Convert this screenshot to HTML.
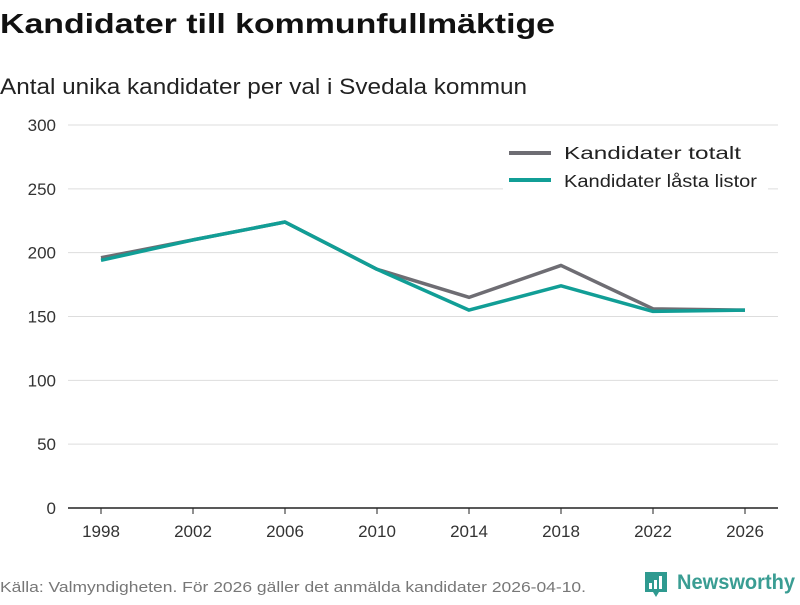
<!DOCTYPE html>
<html><head><meta charset="utf-8"><style>
body{margin:0;background:#fff;width:800px;height:600px;overflow:hidden;font-family:"Liberation Sans",sans-serif}
</style></head><body>
<svg id="c" width="800" height="600" xmlns="http://www.w3.org/2000/svg">
<text x="0" y="33" font-size="28" font-weight="bold" fill="#111" textLength="555" lengthAdjust="spacingAndGlyphs">Kandidater till kommunfullmäktige</text>
<text x="0" y="94" font-size="22" fill="#222" textLength="527" lengthAdjust="spacingAndGlyphs">Antal unika kandidater per val i Svedala kommun</text>
<g id="grid"></g><g id="xt"></g><g id="lines"></g>
<g>
<rect x="503" y="138" width="265" height="62" fill="#fff"/>
<line x1="509" y1="153" x2="551" y2="153" stroke="#6e6d73" stroke-width="4"/>
<text x="564" y="159" font-size="17.5" fill="#222" textLength="177" lengthAdjust="spacingAndGlyphs">Kandidater totalt</text>
<line x1="509" y1="180" x2="551" y2="180" stroke="#119e96" stroke-width="4"/>
<text x="564" y="187" font-size="17.5" fill="#222" textLength="193" lengthAdjust="spacingAndGlyphs">Kandidater låsta listor</text>
</g>
<text x="0" y="592" font-size="15" fill="#777" textLength="586" lengthAdjust="spacingAndGlyphs">Källa: Valmyndigheten. För 2026 gäller det anmälda kandidater 2026-04-10.</text>
<g>
<path d="M645 572h22v20h-8l-3 5-3-5h-8z" fill="#2f9a90"/>
<rect x="649" y="583" width="3" height="6" fill="#fff"/><rect x="654" y="580" width="3" height="9" fill="#fff"/><rect x="659" y="576" width="3" height="13" fill="#fff"/>
<text x="677" y="589" font-size="21" font-weight="bold" fill="#3a9d93" textLength="118" lengthAdjust="spacingAndGlyphs">Newsworthy</text>
</g>
</svg>
<script>
const years=[1998,2002,2006,2010,2014,2018,2022,2026];
const totalt=[196,210,224,187,165,190,156,155];
const lasta=[194,210,224,187,155,174,154,155];
const yTicks=[0,50,100,150,200,250,300];
const NS="http://www.w3.org/2000/svg";
const x=v=>101+(v-1998)*(745-101)/28;
const y=v=>508-v*(508-125)/300;
function mk(t,a,p){const e=document.createElementNS(NS,t);for(const k in a)e.setAttribute(k,a[k]);p.appendChild(e);return e;}
const g=document.getElementById('grid');
yTicks.forEach(v=>{
 const l=mk('line',{x1:68,x2:778,y1:y(v),y2:y(v),stroke:v===0?'#222':'#ddd','stroke-width':v===0?1.5:1},g);
 
 
 const t=mk('text',{x:56,y:y(v)+6,'text-anchor':'end','font-size':17,fill:'#333'},g);t.textContent=v;
 
 
});
const xt=document.getElementById('xt');
years.forEach(v=>{
 const l=mk('line',{x1:x(v),x2:x(v),y1:508,y2:514,stroke:'#222'},xt);
 
 
 const t=mk('text',{x:x(v),y:537,'text-anchor':'middle','font-size':17,fill:'#333'},xt);t.textContent=v;
 
 
});
const L=document.getElementById('lines');
[[totalt,'#6e6d73','line-totalt'],[lasta,'#119e96','line-lasta']].forEach(([s,c,n])=>{
 const p=mk('polyline',{points:s.map((v,i)=>x(years[i])+','+y(v)).join(' '),fill:'none',stroke:c,'stroke-width':3.5,'stroke-linejoin':'round'},L);
 
 
});
</script>
</body></html>
